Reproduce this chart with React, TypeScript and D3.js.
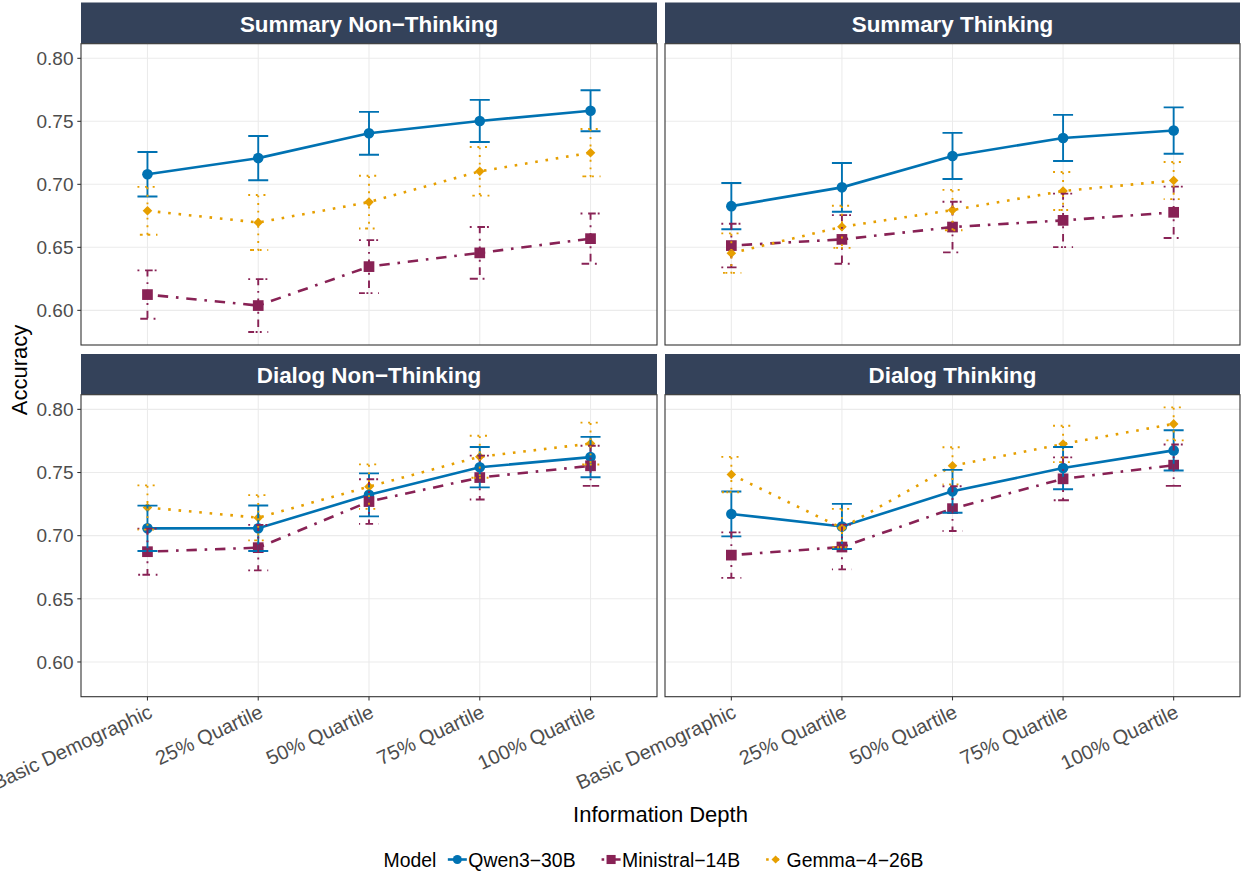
import React from "react";
import * as d3 from "d3";

// ---- data -------------------------------------------------------------
const categories = [
  "Basic Demographic",
  "25% Quartile",
  "50% Quartile",
  "75% Quartile",
  "100% Quartile",
];
const facetTitles = [
  "Summary Non−Thinking",
  "Summary Thinking",
  "Dialog Non−Thinking",
  "Dialog Thinking",
];
const modelNames = ["Qwen3−30B", "Ministral−14B", "Gemma−4−26B"];
const modelColors = ["#0072B2", "#882255", "#E69F00"];
const yTicks = [0.6, 0.65, 0.7, 0.75, 0.8];

// mean accuracy, one row per facet (same order as facetTitles)
const qwenMean = [
  [0.708, 0.7208, 0.7405, 0.7503, 0.7584],
  [0.6827, 0.6976, 0.7225, 0.7368, 0.7427],
  [0.7058, 0.7059, 0.7323, 0.7542, 0.7622],
  [0.7172, 0.7073, 0.7351, 0.7535, 0.7675],
];
const qwenCI = [
  [0.0176, 0.0176, 0.017, 0.0167, 0.0163],
  [0.0184, 0.0193, 0.0183, 0.0183, 0.0184],
  [0.018, 0.018, 0.017, 0.016, 0.016],
  [0.0178, 0.0179, 0.017, 0.0167, 0.0159],
];
const ministralMean = [
  [0.6125, 0.6038, 0.6347, 0.6456, 0.6569],
  [0.6514, 0.6563, 0.6661, 0.6714, 0.6778],
  [0.6873, 0.6905, 0.727, 0.746, 0.7553],
  [0.6846, 0.691, 0.7214, 0.745, 0.7558],
];
const ministralCI = [
  [0.0192, 0.021, 0.021, 0.0205, 0.0199],
  [0.0173, 0.0193, 0.0201, 0.0212, 0.0204],
  [0.0183, 0.018, 0.0177, 0.0174, 0.0159],
  [0.018, 0.0177, 0.0177, 0.017, 0.0164],
];
const gemmaMean = [
  [0.679, 0.6697, 0.6859, 0.7103, 0.7251],
  [0.6454, 0.6663, 0.6796, 0.6947, 0.703],
  [0.7223, 0.7142, 0.7388, 0.7625, 0.7729],
  [0.7484, 0.706, 0.7553, 0.7726, 0.7885],
];
const gemmaCI = [
  [0.019, 0.0218, 0.0209, 0.0193, 0.0188],
  [0.0157, 0.0167, 0.016, 0.0151, 0.0147],
  [0.0175, 0.0179, 0.0176, 0.0166, 0.0166],
  [0.014, 0.0152, 0.0147, 0.0144, 0.0131],
];

const seriesMeans = [qwenMean, ministralMean, gemmaMean];
const seriesCI = [qwenCI, ministralCI, gemmaCI];

// ---- layout & style -----------------------------------------------------
const W = 1243;
const H = 871;
const FONT = '"Liberation Sans", Arial, Helvetica, sans-serif';
const colX: [number, number][] = [
  [81, 657],
  [665, 1240],
];
const rows = [
  { strip: 2.5, top: 43.7, bottom: 345 },
  { strip: 354, top: 394.7, bottom: 696.7 },
];
const yDomain: [number, number] = [0.5725, 0.8116];
const STRIP_FILL = "#34425A";
const LINE_W = 2.6;
const ERR_W = 1.9;
const CAP_HALF = 10;

// ggplot-style line types: solid, dotdash ("1343"), dotted ("13")
function dashFor(model: number, lw: number): string | undefined {
  if (model === 1) return [1, 3, 4, 3].map((d) => d * lw).join(" ");
  if (model === 2) return [1, 3].map((d) => d * lw).join(" ");
  return undefined;
}

function Marker({ model, cx, cy, scale = 1 }: { model: number; cx: number; cy: number; scale?: number }) {
  const c = modelColors[model];
  if (model === 0) return <circle cx={cx} cy={cy} r={5.3 * scale} fill={c} />;
  if (model === 1) {
    const s = 10.7 * scale;
    return <rect x={cx - s / 2} y={cy - s / 2} width={s} height={s} fill={c} />;
  }
  const h = 4.8 * scale;
  return (
    <path
      d={`M${cx},${cy - h}L${cx + h},${cy}L${cx},${cy + h}L${cx - h},${cy}Z`}
      fill={c}
    />
  );
}

let measureCtx: CanvasRenderingContext2D | null = null;
function textWidth(s: string, size: number): number {
  if (!measureCtx) measureCtx = document.createElement("canvas").getContext("2d");
  if (!measureCtx) return s.length * size * 0.55;
  measureCtx.font = `${size}px ${FONT}`;
  return measureCtx.measureText(s).width;
}

function Facet({ index }: { index: number }) {
  const col = index % 2;
  const row = Math.floor(index / 2);
  const [x0, x1] = colX[col];
  const { strip, top, bottom } = rows[row];

  const x = d3.scalePoint<string>().domain(categories).range([x0, x1]).padding(0.6);
  const y = d3.scaleLinear().domain(yDomain).range([bottom, top]);

  const line = d3
    .line<number>()
    .x((_, j) => x(categories[j]) as number)
    .y((d) => y(d));

  const errPath = d3.line<[number, number]>();

  return (
    <g>
      {/* strip */}
      <rect x={x0} y={strip} width={x1 - x0} height={top - strip} fill={STRIP_FILL} />
      <text
        x={(x0 + x1) / 2}
        y={strip + 29.2}
        textAnchor="middle"
        fill="#FFFFFF"
        fontFamily={FONT}
        fontWeight="bold"
        fontSize={22.4}
      >
        {facetTitles[index]}
      </text>

      {/* panel background + grid */}
      <rect x={x0} y={top} width={x1 - x0} height={bottom - top} fill="#FFFFFF" />
      {yTicks.map((t) => (
        <line key={"gy" + t} x1={x0} x2={x1} y1={y(t)} y2={y(t)} stroke="#EBEBEB" strokeWidth={1.07} />
      ))}
      {categories.map((c) => (
        <line key={"gx" + c} x1={x(c)} x2={x(c)} y1={top} y2={bottom} stroke="#EBEBEB" strokeWidth={1.07} />
      ))}

      {/* lines */}
      {seriesMeans.map((m, k) => (
        <path
          key={"l" + k}
          d={line(m[index]) || ""}
          fill="none"
          stroke={modelColors[k]}
          strokeWidth={LINE_W}
          strokeDasharray={dashFor(k, LINE_W)}
          strokeLinecap="butt"
        />
      ))}

      {/* points */}
      {seriesMeans.map((m, k) =>
        m[index].map((v, j) => (
          <Marker key={`p${k}-${j}`} model={k} cx={x(categories[j]) as number} cy={y(v)} />
        ))
      )}

      {/* error bars: cap, stem, cap drawn as one path */}
      {seriesMeans.map((m, k) =>
        m[index].map((v, j) => {
          const cx = x(categories[j]) as number;
          const hi = y(v + seriesCI[k][index][j]);
          const lo = y(v - seriesCI[k][index][j]);
          const pts: [number, number][] = [
            [cx - CAP_HALF, hi],
            [cx + CAP_HALF, hi],
            [cx, hi],
            [cx, lo],
            [cx - CAP_HALF, lo],
            [cx + CAP_HALF, lo],
          ];
          return (
            <path
              key={`e${k}-${j}`}
              d={errPath(pts) || ""}
              fill="none"
              stroke={modelColors[k]}
              strokeWidth={ERR_W}
              strokeDasharray={dashFor(k, ERR_W)}
              strokeLinecap="butt"
            />
          );
        })
      )}

      {/* border */}
      <rect
        x={x0}
        y={top}
        width={x1 - x0}
        height={bottom - top}
        fill="none"
        stroke="#333333"
        strokeWidth={1.1}
      />

      {/* y axis on the left column */}
      {col === 0 &&
        yTicks.map((t) => (
          <g key={"yt" + t}>
            <line x1={x0 - 3.7} x2={x0} y1={y(t)} y2={y(t)} stroke="#333333" strokeWidth={1.07} />
            <text
              x={x0 - 7.5}
              y={y(t)}
              dy="0.36em"
              textAnchor="end"
              fill="#4D4D4D"
              fontFamily={FONT}
              fontSize={19}
            >
              {d3.format(".2f")(t)}
            </text>
          </g>
        ))}

      {/* x axis on the bottom row */}
      {row === 1 &&
        categories.map((c) => (
          <g key={"xt" + c}>
            <line x1={x(c)} x2={x(c)} y1={bottom} y2={bottom + 3.7} stroke="#333333" strokeWidth={1.07} />
            <text
              transform={`translate(${x(c)},${bottom + 7}) rotate(-25)`}
              dy="0.72em"
              textAnchor="end"
              fill="#4D4D4D"
              fontFamily={FONT}
              fontSize={20}
            >
              {c}
            </text>
          </g>
        ))}
    </g>
  );
}

function Legend() {
  const size = 19.4;
  const keyW = 19;
  const titleGap = 11.5;
  const keyGap = 1.5;
  const itemGap = 26;
  const titleW = textWidth("Model", size);
  const labelW = modelNames.map((n) => textWidth(n, size));
  const total =
    titleW +
    titleGap +
    labelW.reduce((a, b) => a + b, 0) +
    modelNames.length * (keyW + keyGap) +
    (modelNames.length - 1) * itemGap;
  const baseline = 866.5;
  const cy = baseline - 7;
  let cursor = 653.5 - total / 2;
  const items: React.ReactNode[] = [];
  items.push(
    <text key="title" x={cursor} y={baseline} fontFamily={FONT} fontSize={size} fill="#000000">
      Model
    </text>
  );
  cursor += titleW + titleGap;
  modelNames.forEach((name, k) => {
    const kx = cursor;
    items.push(
      <g key={"k" + k}>
        <line
          x1={kx}
          x2={kx + keyW}
          y1={cy}
          y2={cy}
          stroke={modelColors[k]}
          strokeWidth={LINE_W}
          strokeDasharray={dashFor(k, LINE_W)}
        />
        <Marker model={k} cx={kx + keyW / 2} cy={cy} scale={0.85} />
        <text x={kx + keyW + keyGap} y={baseline} fontFamily={FONT} fontSize={size} fill="#000000">
          {name}
        </text>
      </g>
    );
    cursor += keyW + keyGap + labelW[k] + itemGap;
  });
  return <g>{items}</g>;
}

export default function App() {
  return (
    <svg
      width={W}
      height={H}
      viewBox={`0 0 ${W} ${H}`}
      style={{ position: "absolute", left: 0, top: 0, background: "#FFFFFF" }}
    >
      <rect x={0} y={0} width={W} height={H} fill="#FFFFFF" />
      {facetTitles.map((_, i) => (
        <Facet key={i} index={i} />
      ))}
      <text
        transform={`translate(27,370) rotate(-90)`}
        textAnchor="middle"
        fontFamily={FONT}
        fontSize={22}
        fill="#000000"
      >
        Accuracy
      </text>
      <text x={660.5} y={821.5} textAnchor="middle" fontFamily={FONT} fontSize={22} fill="#000000">
        Information Depth
      </text>
      <Legend />
    </svg>
  );
}
